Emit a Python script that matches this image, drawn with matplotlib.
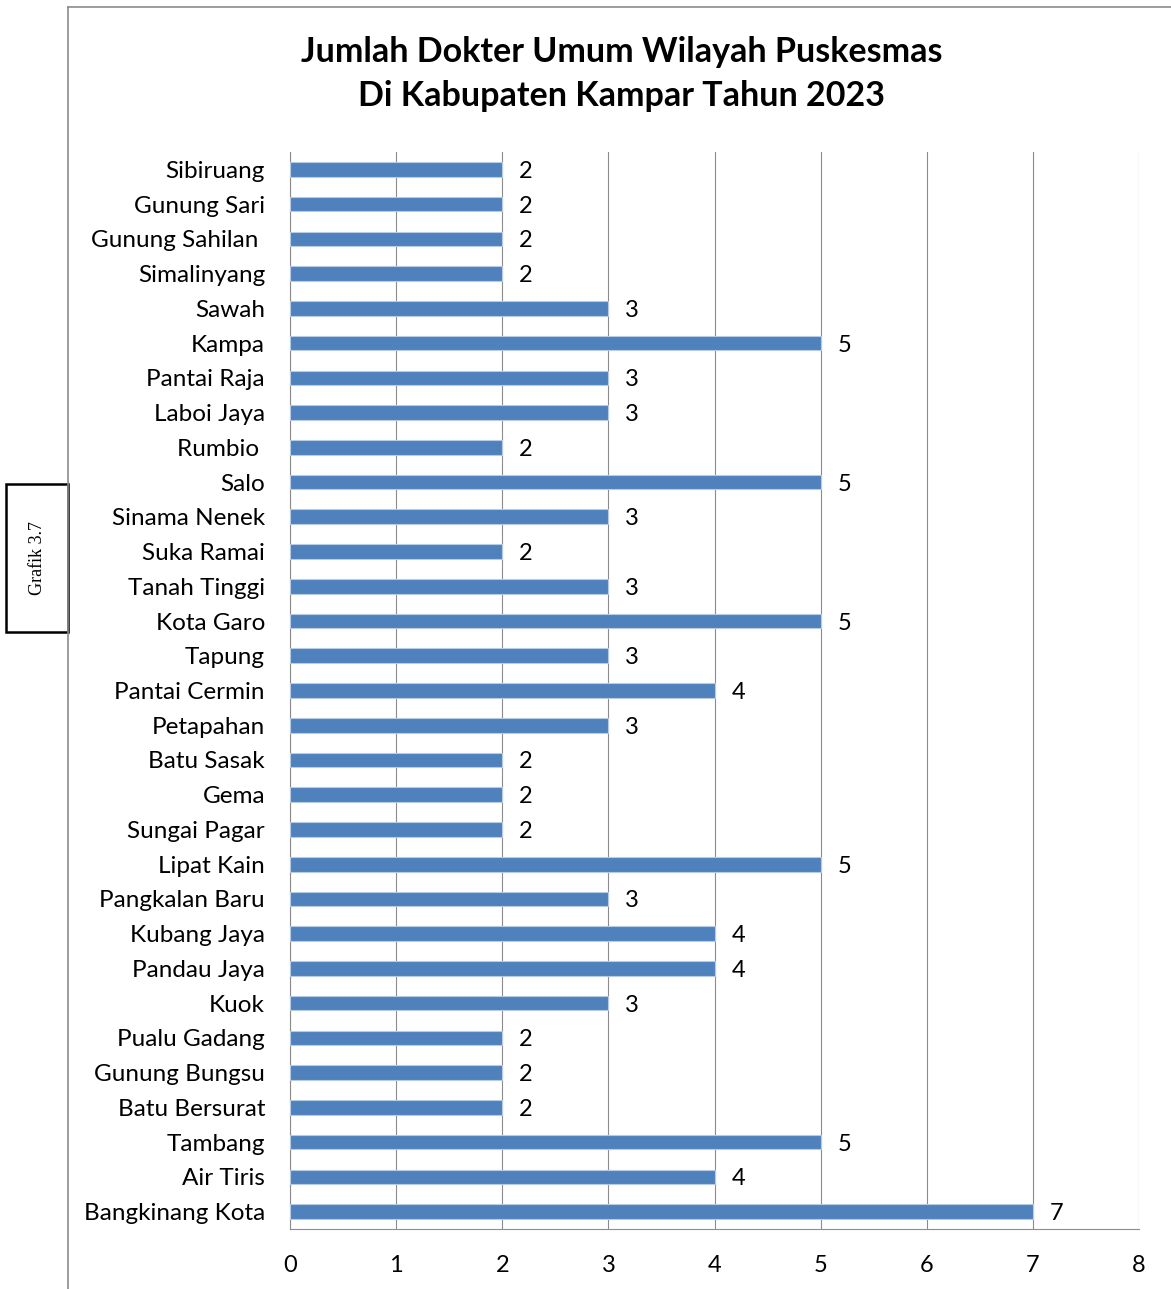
import matplotlib
matplotlib.use("Agg")
import matplotlib.pyplot as plt
from matplotlib.patches import Rectangle
from matplotlib.lines import Line2D

# Data (top to bottom as shown)
puskesmas = [
    "Sibiruang", "Gunung Sari", "Gunung Sahilan ", "Simalinyang", "Sawah",
    "Kampa", "Pantai Raja", "Laboi Jaya", "Rumbio ", "Salo", "Sinama Nenek",
    "Suka Ramai", "Tanah Tinggi", "Kota Garo", "Tapung", "Pantai Cermin",
    "Petapahan", "Batu Sasak", "Gema", "Sungai Pagar", "Lipat Kain",
    "Pangkalan Baru", "Kubang Jaya", "Pandau Jaya", "Kuok", "Pualu Gadang",
    "Gunung Bungsu", "Batu Bersurat", "Tambang", "Air Tiris", "Bangkinang Kota",
]
dokter = [2, 2, 2, 2, 3, 5, 3, 3, 2, 5, 3, 2, 3, 5, 3, 4, 3, 2, 2, 2, 5,
          3, 4, 4, 3, 2, 2, 2, 5, 4, 7]
x_ticks = [0, 1, 2, 3, 4, 5, 6, 7, 8]

plt.rcParams['font.family'] = ['Lato', 'DejaVu Sans']

W, H = 1171, 1289
fig = plt.figure(figsize=(W / 100, H / 100), dpi=100)

ax = fig.add_axes([290 / W, 1 - 1229 / H, (1139 - 290) / W, (1229 - 152) / H])

n = len(puskesmas)
ypos = list(range(n))[::-1]
ax.barh(ypos, dokter, height=0.42, color='#4F81BD',
        edgecolor='#B7CBE4', linewidth=0.8, zorder=3)

for y, v in zip(ypos, dokter):
    ax.text(v + 0.16, y, str(v), va='center_baseline', ha='left', fontsize=17)

ax.set_xlim(0, 8)
ax.set_ylim(-0.5, n - 0.5)
ax.set_yticks(ypos)
ax.set_yticklabels(puskesmas, fontsize=17.5)
ax.set_xticks(x_ticks)
ax.set_xticklabels([str(t) for t in x_ticks], fontsize=17)
ax.tick_params(axis='y', length=0, pad=18)
ax.tick_params(axis='x', length=0, pad=19)

ax.grid(axis='x', color='#8C8C8C', linewidth=0.8, zorder=0)
for s in ['top', 'right']:
    ax.spines[s].set_visible(False)
ax.spines['left'].set_color('#8C8C8C')
ax.spines['bottom'].set_color('#8C8C8C')
ax.spines['left'].set_linewidth(0.8)
ax.spines['bottom'].set_linewidth(0.8)

fig.text(622 / W, 1 - 74 / H,
         "Jumlah Dokter Umum Wilayah Puskesmas\nDi Kabupaten Kampar Tahun 2023",
         ha='center', va='center', fontsize=24.5, fontweight='bold', linespacing=1.45)

# chart frame lines
fig.add_artist(Line2D([68 / W, 68 / W], [0, 1 - 7 / H], color='#8C8C8C',
                      linewidth=1.2, transform=fig.transFigure))
fig.add_artist(Line2D([68 / W, 1], [1 - 7 / H, 1 - 7 / H], color='#8C8C8C',
                      linewidth=1.2, transform=fig.transFigure))

# side label box
fig.add_artist(Rectangle((6 / W, 1 - 632 / H), 62 / W, 148 / H,
                         transform=fig.transFigure, facecolor='white',
                         edgecolor='black', linewidth=1.8))
fig.text(37 / W, 1 - 558 / H, "Grafik 3.7", rotation=90, ha='center', va='center',
         fontsize=13, family=['Liberation Serif', 'DejaVu Serif'])

fig.savefig("out.png", dpi=100, facecolor='white')
